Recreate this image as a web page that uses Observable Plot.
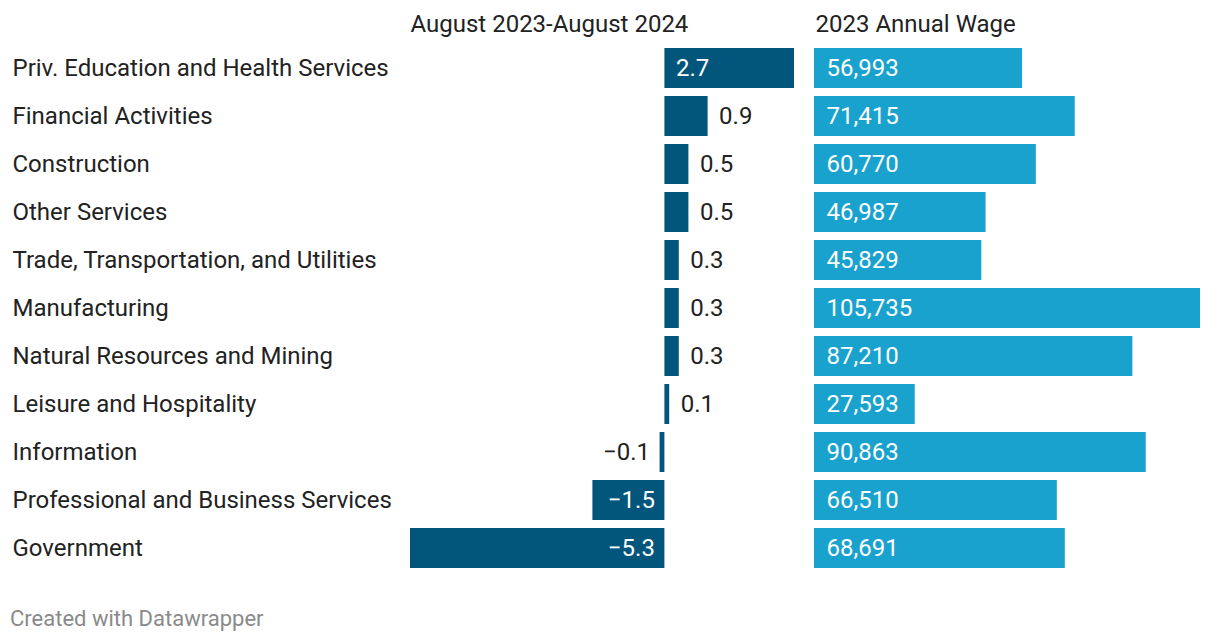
<!DOCTYPE html>
<html>
<head>
<meta charset="utf-8">
<script src="https://cdn.jsdelivr.net/npm/d3@7"></script>
<script src="https://cdn.jsdelivr.net/npm/@observablehq/plot@0.6"></script>
<style>
  html, body { margin: 0; padding: 0; background: #fff; }
  body { width: 1220px; height: 644px; font-family: Roboto, sans-serif; }
  #row { display: flex; flex-direction: row; align-items: flex-start; }
  #footer { position: absolute; left: 10px; top: 608px; font-family: Roboto, sans-serif; font-size: 22px; line-height: 22px; color: #8a8a8a; }
</style>
</head>
<body>
<div id="row"></div>
<div id="footer">Created with Datawrapper</div>
<script>
const categories = [
  "Priv. Education and Health Services",
  "Financial Activities",
  "Construction",
  "Other Services",
  "Trade, Transportation, and Utilities",
  "Manufacturing",
  "Natural Resources and Mining",
  "Leisure and Hospitality",
  "Information",
  "Professional and Business Services",
  "Government"
];
const change = [2.7, 0.9, 0.5, 0.5, 0.3, 0.3, 0.3, 0.1, -0.1, -1.5, -5.3];
const wage = [56993, 71415, 60770, 46987, 45829, 105735, 87210, 27593, 90863, 66510, 68691];
const title1 = "August 2023-August 2024";
const title2 = "2023 Annual Wage";

const DARK = "#02557b";
const LIGHT = "#19a2ce";
const TEXT = "#222222";
const FS = 24;

const rows = categories.map((c, i) => ({cat: c, change: change[i], wage: wage[i], inside: Math.abs(change[i]) >= 1.5}));
const fmtChange = v => (v < 0 ? "\u2212" : "") + Math.abs(v).toFixed(1);
const fmtWage = d3.format(",");

const H = 580;
const yOpts = {domain: categories, range: [44, 44 + 48 * categories.length], padding: 0, axis: null};

const p1 = Plot.plot({
  width: 804,
  height: H,
  marginLeft: 410,
  marginRight: 10,
  marginTop: 44,
  marginBottom: H - 44 - 48 * categories.length,
  style: {fontFamily: "Roboto, sans-serif", fontSize: FS + "px", background: "transparent"},
  x: {domain: [-5.3, 2.7], axis: null},
  y: yOpts,
  marks: [
    Plot.barX(rows, {x1: 0, x2: "change", y: "cat", fill: DARK, insetTop: 4, insetBottom: 4}),
    Plot.text(rows, {y: "cat", frameAnchor: "left", textAnchor: "start", dx: -398, text: "cat", fill: TEXT, fontSize: FS}),
    // inside labels
    Plot.text(rows.filter(d => d.inside && d.change > 0), {x: 0, y: "cat", text: d => fmtChange(d.change), textAnchor: "start", dx: 11, fill: "#fff", fontSize: FS}),
    Plot.text(rows.filter(d => d.inside && d.change < 0), {x: 0, y: "cat", text: d => fmtChange(d.change), textAnchor: "end", dx: -10, fill: "#fff", fontSize: FS}),
    // outside labels
    Plot.text(rows.filter(d => !d.inside && d.change > 0), {x: "change", y: "cat", text: d => fmtChange(d.change), textAnchor: "start", dx: 11, fill: TEXT, fontSize: FS}),
    Plot.text(rows.filter(d => !d.inside && d.change < 0), {x: "change", y: "cat", text: d => fmtChange(d.change), textAnchor: "end", dx: -10, fill: TEXT, fontSize: FS}),
    Plot.text([title1], {frameAnchor: "top-left", textAnchor: "start", lineAnchor: "bottom", dy: -13, text: d => d, fill: TEXT, fontSize: FS})
  ]
});

const p2 = Plot.plot({
  width: 416,
  height: H,
  marginLeft: 10,
  marginRight: 20,
  marginTop: 44,
  marginBottom: H - 44 - 48 * categories.length,
  style: {fontFamily: "Roboto, sans-serif", fontSize: FS + "px", background: "transparent"},
  x: {domain: [0, 105735], axis: null},
  y: yOpts,
  marks: [
    Plot.barX(rows, {x1: 0, x2: "wage", y: "cat", fill: LIGHT, insetTop: 4, insetBottom: 4}),
    Plot.text(rows, {x: 0, y: "cat", text: d => fmtWage(d.wage), textAnchor: "start", dx: 12, fill: "#fff", fontSize: FS}),
    Plot.text([title2], {frameAnchor: "top-left", textAnchor: "start", lineAnchor: "bottom", dy: -13, dx: 1, text: d => d, fill: TEXT, fontSize: FS})
  ]
});

document.getElementById("row").append(p1, p2);
</script>
</body>
</html>
